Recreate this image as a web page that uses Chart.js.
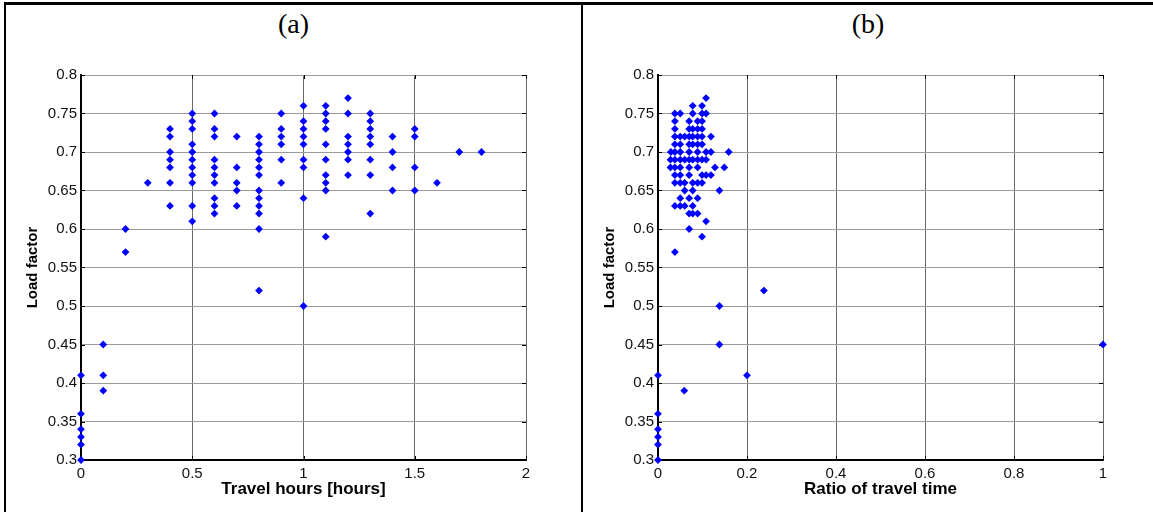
<!DOCTYPE html>
<html lang="en">
<head>
  <meta charset="UTF-8" />
  <title>Load factor vs travel time</title>
  <script src="https://cdn.jsdelivr.net/npm/chart.js"></script>
  <style>
    body { margin: 0; background: #fff; width: 1153px; height: 512px; position: relative; overflow: hidden; }
    .line { position: absolute; background: #000; }
    .title { position: absolute; top: 8px; font-family: "Liberation Serif", "Times New Roman", serif; font-size: 28px; text-align: center; color: #000; }
    canvas { position: absolute; top: 60px; }
  </style>
</head>
<body>
  <div class="line" style="left:4px; top:2px; width:1149px; height:3px"></div>
  <div class="line" style="left:4px; top:2px; width:2px; height:510px"></div>
  <div class="line" style="left:581px; top:2px; width:2px; height:510px"></div>
  <div class="title" style="left:6px; width:575px">(a)</div>
  <div class="title" style="left:583px; width:570px">(b)</div>
  <canvas id="chartA" width="570" height="452" style="left:6px"></canvas>
  <canvas id="chartB" width="570" height="452" style="left:583px"></canvas>

  <script>
    // (a) travel hours -> load factors observed at that value
    const hoursA = [0, 0.1, 0.2, 0.3, 0.4, 0.5, 0.6, 0.7, 0.8, 0.9, 1.0, 1.1, 1.2, 1.3, 1.4, 1.5, 1.6, 1.7, 1.8];
    const loadByHourA = [
      [0.41, 0.36, 0.34, 0.33, 0.32, 0.30],
      [0.45, 0.41, 0.39],
      [0.60, 0.57],
      [0.66],
      [0.73, 0.72, 0.70, 0.69, 0.68, 0.66, 0.63],
      [0.75, 0.74, 0.73, 0.71, 0.70, 0.69, 0.68, 0.67, 0.66, 0.63, 0.61],
      [0.75, 0.73, 0.72, 0.69, 0.68, 0.67, 0.66, 0.64, 0.63, 0.62],
      [0.72, 0.68, 0.66, 0.65, 0.63],
      [0.72, 0.71, 0.70, 0.69, 0.68, 0.67, 0.65, 0.64, 0.63, 0.62, 0.60, 0.52],
      [0.75, 0.73, 0.72, 0.71, 0.69, 0.66],
      [0.76, 0.74, 0.73, 0.72, 0.71, 0.69, 0.68, 0.64, 0.50],
      [0.76, 0.75, 0.74, 0.73, 0.71, 0.69, 0.67, 0.66, 0.65, 0.59],
      [0.77, 0.75, 0.72, 0.71, 0.70, 0.69, 0.67],
      [0.75, 0.74, 0.73, 0.72, 0.71, 0.69, 0.67, 0.62],
      [0.72, 0.70, 0.68, 0.65],
      [0.73, 0.72, 0.68, 0.65],
      [0.66],
      [0.70],
      [0.70]
    ];

    // (b) load factor -> ratios of travel time observed at that value
    const loadRowsB = [0.77, 0.76, 0.75, 0.74, 0.73, 0.72, 0.71, 0.70, 0.69, 0.68, 0.67, 0.66, 0.65, 0.64, 0.63, 0.62, 0.61, 0.60, 0.59, 0.57, 0.52, 0.50, 0.45, 0.41, 0.39, 0.36, 0.34, 0.33, 0.32, 0.30];
    const ratioByLoadB = [
      [0.108],
      [0.078, 0.099],
      [0.038, 0.05, 0.078, 0.099, 0.108],
      [0.038, 0.07, 0.089, 0.099],
      [0.038, 0.07, 0.078, 0.089, 0.099],
      [0.038, 0.05, 0.06, 0.07, 0.078, 0.089, 0.099, 0.119],
      [0.038, 0.05, 0.07, 0.078, 0.089, 0.099],
      [0.029, 0.038, 0.05, 0.07, 0.089, 0.108, 0.119, 0.159],
      [0.028, 0.038, 0.05, 0.06, 0.07, 0.078, 0.089, 0.099, 0.108],
      [0.028, 0.038, 0.05, 0.07, 0.089, 0.128, 0.149],
      [0.038, 0.05, 0.07, 0.099, 0.108, 0.119],
      [0.038, 0.05, 0.06, 0.078, 0.089, 0.099],
      [0.06, 0.078, 0.138],
      [0.05, 0.07, 0.089],
      [0.038, 0.05, 0.06, 0.078],
      [0.07, 0.078, 0.089],
      [0.108],
      [0.07],
      [0.099],
      [0.038],
      [0.238],
      [0.138],
      [0.138, 1.0],
      [0, 0.2],
      [0.059],
      [0], [0], [0], [0], [0]
    ];

    const pointsA = hoursA.flatMap((h, i) => loadByHourA[i].map(v => ({ x: h, y: v })));
    const pointsB = loadRowsB.flatMap((v, i) => ratioByLoadB[i].map(r => ({ x: r, y: v })));

    // small inward tick marks on all four sides, like the matlab axes
    const inwardTicks = {
      id: 'inwardTicks',
      beforeDatasetsDraw(chart) {
        const { ctx, chartArea: a, scales: { x, y } } = chart;
        ctx.save();
        ctx.strokeStyle = '#000';
        ctx.lineWidth = 1;
        ctx.beginPath();
        x.ticks.forEach(t => {
          const px = Math.round(x.getPixelForValue(t.value)) + 0.5;
          ctx.moveTo(px, a.bottom); ctx.lineTo(px, a.bottom - 4);
          ctx.moveTo(px, a.top); ctx.lineTo(px, a.top + 4);
        });
        y.ticks.forEach(t => {
          const py = Math.round(y.getPixelForValue(t.value)) + 0.5;
          ctx.moveTo(a.left, py); ctx.lineTo(a.left + 4, py);
          ctx.moveTo(a.right, py); ctx.lineTo(a.right - 4, py);
        });
        ctx.stroke();
        ctx.restore();
      }
    };

    const fmt = v => String(Math.round(v * 100) / 100);

    function makeChart(id, points, xMax, xStep, xTitle) {
      return new Chart(document.getElementById(id).getContext('2d'), {
        type: 'scatter',
        data: {
          datasets: [{
            data: points,
            pointStyle: 'rectRot',
            pointRadius: 3.9,
            pointHoverRadius: 3.9,
            borderWidth: 0,
            backgroundColor: '#0000ff',
            borderColor: '#0000ff',
            clip: false
          }]
        },
        options: {
          responsive: false,
          animation: false,
          events: [],
          layout: { padding: { left: 0, top: 15, right: 50, bottom: 0 } },
          plugins: { legend: { display: false }, tooltip: { enabled: false } },
          scales: {
            x: {
              type: 'linear',
              min: 0, max: xMax,
              afterFit: s => { s.height = 52; },
              ticks: { stepSize: xStep, autoSkip: false, maxRotation: 0, padding: 5, color: '#111',
                       font: { family: 'Liberation Sans, Arial', size: 15 }, callback: fmt },
              grid: { color: '#6a6a6a', lineWidth: 1, drawTicks: false },
              border: { display: true, color: '#000', width: 2 },
              title: { display: true, text: xTitle, color: '#000', padding: { top: 0, bottom: 12 },
                       font: { family: 'Liberation Sans, Arial', size: 17, weight: 'bold' } }
            },
            y: {
              type: 'linear',
              min: 0.3, max: 0.8,
              afterFit: s => { s.width = 75; },
              ticks: { stepSize: 0.05, autoSkip: false, padding: 4, color: '#111',
                       font: { family: 'Liberation Sans, Arial', size: 15 }, callback: fmt },
              grid: { color: '#9a9a9a', lineWidth: 1, drawTicks: false },
              border: { display: true, color: '#000', width: 2 },
              title: { display: true, text: 'Load factor', color: '#000', padding: { top: 18, bottom: 0 },
                       font: { family: 'Liberation Sans, Arial', size: 15, weight: 'bold' } }
            }
          }
        },
        plugins: [inwardTicks]
      });
    }

    makeChart('chartA', pointsA, 2, 0.5, 'Travel hours [hours]');
    makeChart('chartB', pointsB, 1, 0.2, 'Ratio of travel time');
  </script>
</body>
</html>
